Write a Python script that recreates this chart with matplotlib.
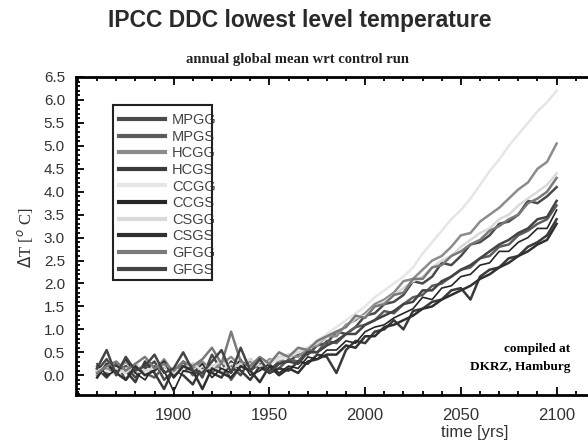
import numpy as np
import matplotlib
matplotlib.use('Agg')
import matplotlib.pyplot as plt
from matplotlib.patches import Rectangle
from matplotlib.ticker import MultipleLocator, FormatStrFormatter

plt.rcParams['font.family'] = 'Liberation Sans'

# 5-year samples, 1860 .. 2100
years = list(range(1860, 2101, 5))

mpgg = [0.10, 0.35, 0.05, 0.20, -0.05, 0.15, 0.30, -0.10, 0.10, 0.05,
        0.25, -0.05, 0.45, 0.10, 0.20, 0.00, 0.35, 0.15, 0.10, 0.30,
        0.30, 0.45, 0.45, 0.65, 0.70, 0.95, 0.90, 1.05, 1.30, 1.35,
        1.55, 1.60, 1.75, 2.05, 2.00, 2.15, 2.45, 2.40, 2.60, 2.85,
        2.90, 3.05, 3.30, 3.35, 3.50, 3.80, 3.75, 3.90, 4.10]
mpgs = [0.20, 0.05, 0.25, -0.10, 0.15, 0.05, -0.05, 0.20, 0.00, 0.30,
        0.00, 0.15, 0.05, 0.30, -0.10, 0.20, 0.10, 0.25, 0.05, 0.15,
        0.35, 0.30, 0.55, 0.50, 0.75, 0.70, 0.90, 1.05, 1.10, 1.20,
        1.40, 1.35, 1.55, 1.70, 1.75, 1.95, 2.00, 2.15, 2.30, 2.35,
        2.55, 2.60, 2.80, 2.85, 3.05, 3.15, 3.30, 3.40, 3.70]
hcgg = [0.00, 0.15, 0.10, 0.30, 0.05, 0.25, 0.10, 0.35, 0.05, 0.20,
        0.15, 0.30, 0.10, 0.25, 0.40, 0.20, 0.30, 0.15, 0.35, 0.30,
        0.45, 0.40, 0.60, 0.65, 0.85, 0.85, 1.10, 1.20, 1.35, 1.55,
        1.65, 1.80, 2.05, 2.10, 2.30, 2.50, 2.60, 2.80, 3.05, 3.10,
        3.35, 3.50, 3.65, 3.85, 4.05, 4.20, 4.50, 4.65, 5.05]
hcgs = [0.15, -0.05, 0.20, 0.10, -0.15, 0.30, 0.05, -0.30, 0.15, 0.00,
        -0.20, 0.20, 0.05, -0.05, 0.30, 0.10, -0.10, 0.20, 0.05, 0.15,
        0.10, 0.30, 0.25, 0.45, 0.40, 0.05, 0.55, 0.75, 0.70, 0.95,
        1.00, 1.20, 1.00, 1.40, 1.45, 1.60, 1.65, 1.85, 1.90, 1.65,
        2.15, 2.30, 2.35, 2.55, 2.60, 2.80, 2.90, 3.05, 3.40]
ccgg = [0.05, 0.10, 0.00, 0.15, 0.10, 0.05, 0.20, 0.10, 0.15, 0.05,
        0.10, 0.20, 0.15, 0.10, 0.25, 0.20, 0.15, 0.30, 0.25, 0.35,
        0.40, 0.50, 0.60, 0.75, 0.90, 1.05, 1.20, 1.35, 1.50, 1.70,
        1.85, 2.00, 2.15, 2.35, 2.65, 2.90, 3.15, 3.40, 3.60, 3.85,
        4.15, 4.45, 4.70, 5.00, 5.25, 5.50, 5.75, 5.95, 6.20]
ccgs = [0.25, 0.00, 0.10, 0.35, 0.05, -0.10, 0.20, 0.10, -0.35, 0.10,
        0.05, 0.25, -0.05, 0.15, 0.05, 0.35, 0.00, 0.10, 0.25, 0.05,
        0.20, 0.15, 0.40, 0.35, 0.55, 0.55, 0.75, 0.70, 0.95, 1.05,
        1.10, 1.25, 1.35, 1.45, 1.70, 1.65, 1.90, 1.95, 2.15, 2.20,
        2.40, 2.45, 2.70, 2.70, 2.90, 3.00, 3.20, 3.20, 3.60]
csgg = [0.10, 0.20, 0.15, 0.05, 0.25, 0.10, 0.15, 0.20, 0.05, 0.15,
        0.25, 0.10, 0.20, 0.30, 0.15, 0.25, 0.35, 0.20, 0.30, 0.40,
        0.45, 0.50, 0.60, 0.70, 0.85, 0.95, 1.05, 1.25, 1.30, 1.50,
        1.60, 1.75, 1.90, 2.05, 2.15, 2.35, 2.50, 2.60, 2.80, 2.95,
        3.10, 3.20, 3.40, 3.50, 3.70, 3.85, 4.00, 4.15, 4.40]
csgs = [-0.05, 0.25, 0.05, -0.10, 0.20, 0.00, 0.10, 0.30, -0.05, 0.20,
        0.10, -0.30, 0.15, 0.05, -0.05, 0.20, 0.10, -0.15, 0.20, 0.00,
        0.15, 0.05, 0.30, 0.35, 0.45, 0.45, 0.65, 0.60, 0.85, 0.85,
        1.05, 1.10, 1.20, 1.30, 1.45, 1.50, 1.65, 1.75, 1.85, 1.95,
        2.10, 2.20, 2.35, 2.45, 2.60, 2.70, 2.85, 2.95, 3.30]
gfgg = [0.05, 0.20, 0.30, 0.10, 0.25, 0.40, 0.15, 0.25, 0.10, 0.30,
        0.20, 0.35, 0.60, 0.25, 0.95, 0.30, 0.20, 0.40, 0.25, 0.50,
        0.40, 0.60, 0.55, 0.75, 0.85, 0.95, 1.05, 1.30, 1.25, 1.50,
        1.55, 1.75, 1.80, 2.10, 2.10, 2.35, 2.40, 2.60, 2.70, 2.85,
        2.95, 3.15, 3.25, 3.40, 3.50, 3.75, 3.85, 4.00, 4.30]
gfgs = [0.15, 0.55, 0.00, 0.40, 0.10, 0.20, 0.45, 0.05, 0.15, 0.50,
        0.10, 0.05, 0.30, 0.55, 0.05, 0.60, 0.10, 0.35, 0.05, 0.25,
        0.30, 0.25, 0.50, 0.50, 0.65, 0.75, 0.90, 0.90, 1.10, 1.20,
        1.30, 1.40, 1.55, 1.60, 1.85, 1.85, 2.05, 2.15, 2.30, 2.40,
        2.55, 2.70, 2.85, 2.95, 3.10, 3.20, 3.40, 3.45, 3.80]

names = ['MPGG', 'MPGS', 'HCGG', 'HCGS', 'CCGG',
         'CCGS', 'CSGG', 'CSGS', 'GFGG', 'GFGS']
series = [mpgg, mpgs, hcgg, hcgs, ccgg, ccgs, csgg, csgs, gfgg, gfgs]
colors = ['#4a4a4a', '#5c5c5c', '#8c8c8c', '#3a3a3a', '#e6e6e6',
          '#262626', '#dadada', '#303030', '#7a7a7a', '#444444']
widths = [1.8, 1.8, 1.8, 1.8, 1.8, 1.2, 1.8, 1.8, 1.8, 1.8]

fig = plt.figure(figsize=(5.88, 4.46), dpi=100)
# axes run past the right edge of the picture, as in the cropped original
ax = fig.add_axes([76/588, 51/446, 528.5/588, 318/446])

for vals, nm, c, lw in zip(series, names, colors, widths):
    ax.plot(years, vals, color=c, lw=lw, label=nm)

ax.set_xlim(1849, 2125)
ax.set_ylim(-0.43, 6.5)
ax.set_xticks([1900, 1950, 2000, 2050, 2100])
ax.xaxis.set_minor_locator(MultipleLocator(10))
ax.set_yticks(np.arange(0, 6.51, 0.5))
ax.yaxis.set_minor_locator(MultipleLocator(0.1))
ax.yaxis.set_major_formatter(FormatStrFormatter('%.1f'))
ax.tick_params(which='both', direction='in', top=True, right=False, width=1.3)
ax.tick_params(which='major', length=6)
ax.tick_params(which='minor', length=3)
ax.tick_params(axis='y', labelsize=11, labelcolor='#333333', pad=8)
ax.tick_params(axis='x', labelsize=12, labelcolor='#333333', pad=9)
for s in ax.spines.values():
    s.set_linewidth(2)
ax.spines['right'].set_visible(False)

leg = ax.legend(loc='upper left', bbox_to_anchor=(0.07, 0.905), frameon=False,
                fontsize=10.5, handlelength=3.2, handletextpad=0.45,
                labelspacing=0.18, borderaxespad=0)
for t in leg.get_texts():
    t.set_color('#444444')
for h in leg.get_lines():
    h.set_linewidth(3)
fig.add_artist(Rectangle((113/588, 1 - 280/446), 99/588, 175/446,
                         transform=fig.transFigure, fill=False, lw=1.5, ec='#222222'))

fig.text(300/588, 1 - 20/446, 'IPCC DDC lowest level temperature',
         ha='center', va='center', fontsize=16.5, fontweight='bold', color='#2a2a2a')
fig.text(298/588, 1 - 60/446, 'annual global mean wrt control run',
         ha='center', va='center', fontsize=10.5, fontweight='bold',
         family='Liberation Serif', color='#222222')
fig.text(25/588, 1 - 238/446, r'$\Delta$T [$^o$ C]', rotation=90,
         ha='center', va='center', fontsize=12, family='Liberation Serif',
         color='#333333')
fig.text(475/588, 1 - 433/446, 'time [yrs]', ha='center', va='center',
         fontsize=12, color='#333333')
fig.text(570/588, 1 - 349/446, 'compiled at', ha='right', va='center',
         fontsize=9.5, fontweight='bold', family='Liberation Serif')
fig.text(570/588, 1 - 367/446, 'DKRZ, Hamburg', ha='right', va='center',
         fontsize=9.5, fontweight='bold', family='Liberation Serif')

fig.savefig('out.png', dpi=100)
